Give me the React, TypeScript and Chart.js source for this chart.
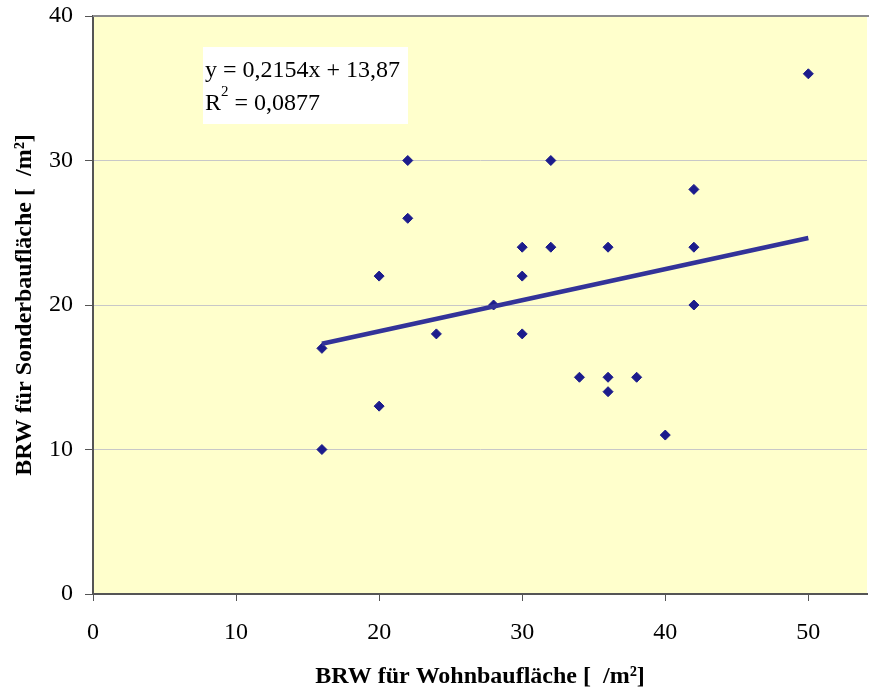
import React, { useEffect, useRef } from "react";
import { Chart, registerables } from "chart.js";

Chart.register(...registerables);

const wohnX = [16, 16, 20, 20, 22, 22, 24, 28, 30, 30, 30, 32, 32, 34, 36, 36, 36, 38, 40, 42, 42, 42, 50];
const sonderY = [17, 10, 22, 13, 30, 26, 18, 20, 24, 22, 18, 30, 24, 15, 24, 15, 14, 15, 11, 28, 24, 20, 36];
const slope = 0.2154;
const intercept = 13.87;
const trendX = [16, 50];
const eqText = "y = 0,2154x + 13,87";
const r2Text = " = 0,0877";
const xTitle = "BRW für Wohnbaufläche [  /m²]";
const yTitle = "BRW für Sonderbaufläche [  /m²]";

const FONT = "'Liberation Serif', 'DejaVu Serif', serif";

export default function App() {
  const ref = useRef<HTMLCanvasElement | null>(null);
  useEffect(() => {
    document.body.style.margin = "0";
    const canvas = ref.current!;
    const bgPlugin = {
      id: "bg",
      beforeDraw(chart: any) {
        const { ctx, chartArea: a } = chart;
        ctx.save();
        ctx.fillStyle = "#FFFFCC";
        ctx.fillRect(a.left, a.top, a.right - a.left, a.bottom - a.top);
        ctx.restore();
      },
      afterDraw(chart: any) {
        const { ctx, chartArea: a } = chart;
        ctx.save();
        ctx.strokeStyle = "#8c8c8c";
        ctx.lineWidth = 2;
        ctx.beginPath();
        ctx.moveTo(a.left, a.top);
        ctx.lineTo(a.right + 2, a.top);
        ctx.stroke();
        // annotation box
        const bx = 203, by = 47, bw = 205, bh = 77;
        ctx.fillStyle = "#ffffff";
        ctx.fillRect(bx, by, bw, bh);
        ctx.fillStyle = "#000000";
        ctx.font = `24px ${FONT}`;
        ctx.textBaseline = "alphabetic";
        ctx.textAlign = "left";
        ctx.fillText(eqText, 205, 77);
        ctx.fillText("R", 205, 110);
        const rw = ctx.measureText("R").width;
        ctx.font = `15px ${FONT}`;
        ctx.fillText("2", 205 + rw, 96);
        const sw = ctx.measureText("2").width;
        ctx.font = `24px ${FONT}`;
        ctx.fillText(r2Text, 205 + rw + sw, 110);
        ctx.restore();
      },
    };
    const chart = new Chart(canvas, {
      type: "scatter",
      data: {
        datasets: [
          {
            label: "Punkte",
            data: wohnX.map((x, i) => ({ x, y: sonderY[i] })),
            pointStyle: "rectRot",
            pointRadius: 5,
            pointBackgroundColor: "#1c1c8c",
            pointBorderColor: "#1c1c8c",
            pointBorderWidth: 1,
            showLine: false,
            order: 1,
          },
          {
            label: "Trend",
            data: trendX.map((x) => ({ x, y: intercept + slope * x })),
            showLine: true,
            borderColor: "#333399",
            borderWidth: 4.5,
            pointRadius: 0,
            order: 0,
          },
        ],
      },
      options: {
        animation: false,
        responsive: false,
        layout: { padding: { left: 0, right: 0, top: 16, bottom: 0 } },
        plugins: { legend: { display: false }, tooltip: { enabled: false } },
        scales: {
          x: {
            type: "linear",
            min: 0,
            max: 54.1,
            afterBuildTicks(scale: any) {
              scale.ticks = [0, 10, 20, 30, 40, 50].map((v) => ({ value: v }));
            },
            afterFit(scale: any) {
              scale.height = 97;
              scale.paddingLeft = 0;
              scale.paddingRight = 0;
            },
            grid: {
              drawOnChartArea: false,
              drawTicks: true,
              tickLength: 7,
              tickColor: "#555555",
              color: "#555555",
            },
            border: { display: true, color: "#555555", width: 2 },
            ticks: {
              color: "#000",
              font: { family: FONT, size: 24 },
              padding: 17,
              maxRotation: 0,
            },
            title: {
              display: true,
              text: xTitle,
              color: "#000",
              font: { family: FONT, size: 24, weight: "bold" },
              padding: { top: 8, bottom: 0 },
            },
          },
          y: {
            type: "linear",
            min: 0,
            max: 40,
            afterBuildTicks(scale: any) {
              scale.ticks = [0, 10, 20, 30, 40].map((v) => ({ value: v }));
            },
            afterFit(scale: any) {
              scale.width = 93;
              scale.paddingTop = 0;
              scale.paddingBottom = 0;
            },
            grid: {
              drawOnChartArea: true,
              drawTicks: true,
              tickLength: 8,
              tickColor: "#555555",
              color: (c: any) => (c.tick && (c.tick.value === 0 || c.tick.value === 40) ? "rgba(0,0,0,0)" : "#c8c8c8"),
              lineWidth: 1,
            },
            border: { display: true, color: "#555555", width: 2 },
            ticks: {
              color: "#000",
              font: { family: FONT, size: 24 },
              padding: 12,
            },
            title: {
              display: true,
              text: yTitle,
              color: "#000",
              font: { family: FONT, size: 24, weight: "bold" },
              padding: { top: 10, bottom: 0 },
            },
          },
        },
      },
      plugins: [bgPlugin],
    });
    return () => chart.destroy();
  }, []);
  return (
    <div style={{ width: 869, height: 691, overflow: "hidden" }}>
      <canvas ref={ref} width={873} height={691} style={{ display: "block" }} />
    </div>
  );
}
